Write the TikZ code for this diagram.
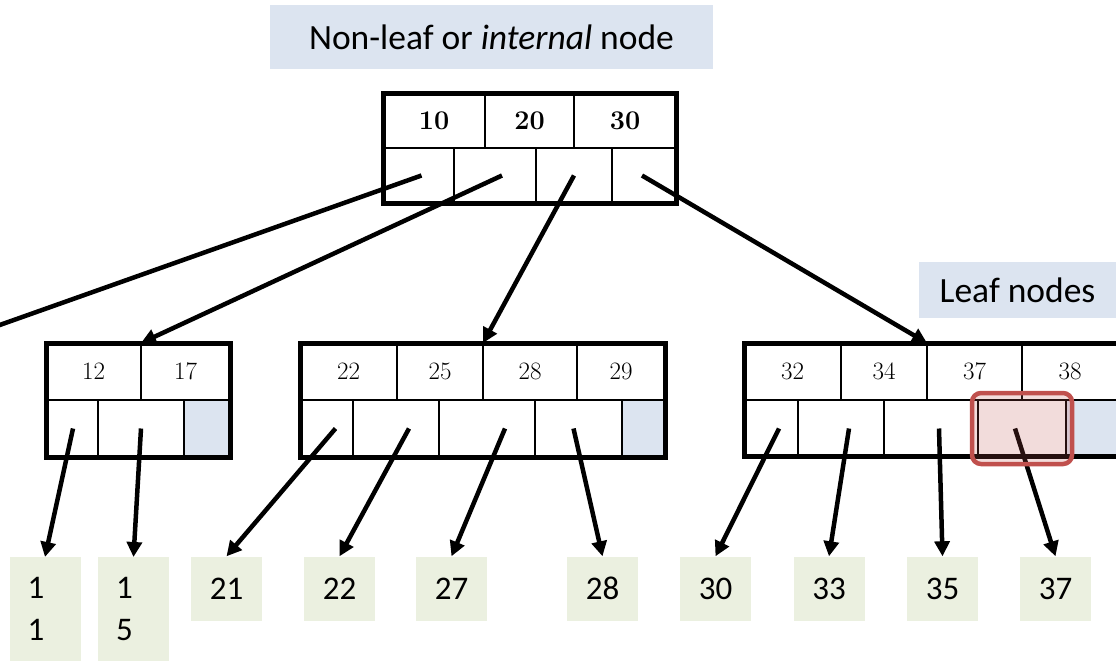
\documentclass[tikz,border=0pt]{standalone}
\usepackage{fontspec}
\newfontfamily\calib{Carlito}
\usetikzlibrary{arrows.meta,fit}
\definecolor{tagblue}{RGB}{220,228,240}
\definecolor{leafgreen}{RGB}{235,240,224}
\definecolor{markred}{RGB}{192,80,77}

\begin{document}
\begin{tikzpicture}[x=1pt,y=-1pt,
        cell/.style={draw,line width=1.5pt,inner sep=0pt,outer sep=0pt,font=\fontsize{25}{28}\selectfont},
        frame/.style={line width=5pt},
        ptr/.style={-{Triangle[length=15pt,width=15pt]},line width=4.5pt},
        rec/.style={fill=leafgreen,inner sep=0pt,minimum width=71pt,minimum height=64pt,font=\calib\fontsize{33}{42}\selectfont},
        tag/.style={fill=tagblue,inner sep=0pt,font=\calib\fontsize{35.5}{40}\selectfont}]
        \useasboundingbox (0,0) rectangle (1116,661);
        \clip (0,0) rectangle (1116,661);

        % Labels
        \node[tag,minimum width=443pt,minimum height=64pt] (inner) at (491.5,37) {Non-leaf or \textit{internal} node};
        \node[tag,minimum width=197pt,minimum height=56pt] (leaves) at (1017.5,290) {Leaf nodes};

        % Root node
        \foreach \n/\a/\b/\t in {r1/383/485/10, r2/485/574/20, r3/574/676/30}
            \node[cell,font=\fontsize{27}{30}\bfseries,minimum width={(\b-\a)*1pt},minimum height=55pt] (\n) at ({(\a+\b)/2},120.5) {\t};
        \foreach \n/\a/\b in {rp1/383/454, rp2/454/536, rp3/536/612, rp4/612/676}
            \node[cell,minimum width={(\b-\a)*1pt},minimum height=55pt] (\n) at ({(\a+\b)/2},175.5) {};
        \draw[frame] (383,93) rectangle (676,203);

        % Leaf nodes
        \foreach \n/\a/\b/\t in {a1/46/141/12, a2/141/230/17,
            b1/300/397/22, b2/397/483/25, b3/483/577/28, b4/577/665/29,
            c1/744/841/32, c2/841/927/34, c3/927/1022/37, c4/1022/1118/38}
            \node[cell,minimum width={(\b-\a)*1pt},minimum height=57pt] (\n) at ({(\a+\b)/2},371.5) {\t};
        \foreach \n/\a/\b/\c in {ap1/46/98/white, ap2/98/184/white, ap3/184/230/tagblue,
            bp1/300/353/white, bp2/353/439/white, bp3/439/535/white, bp4/535/622/white, bp5/622/665/tagblue,
            cp1/744/798/white, cp2/798/884/white, cp3/884/978/white, cp4/978/1066/white, cp5/1066/1118/tagblue}
            \node[cell,fill=\c,minimum width={(\b-\a)*1pt},minimum height=57pt] (\n) at ({(\a+\b)/2},428.5) {};
        \draw[frame] (46,343) rectangle (230,457);
        \draw[frame] (300,343) rectangle (665,457);
        \draw[frame] (744,343) rectangle (1122,456);

        % Records
        \node[rec,minimum height=104pt,text width=35pt,align=left,inner xsep=18pt,anchor=north] (d11) at (45,557) {1\\1};
        \node[rec,minimum height=104pt,text width=35pt,align=left,inner xsep=18pt,anchor=north] (d15) at (133.5,557) {1\\5};
        \foreach \n/\x/\t in {d21/226.5/21, d22/339.5/22, d27/451.5/27, d28/602.5/28,
            d30/715.5/30, d33/829/33, d35/942.5/35, d37/1055.5/37}
            \node[rec] (\n) at (\x,588.5) {\t};

        % Pointers
        \coordinate (offl) at (-20,332);
        \draw[line width=4.5pt] ([xshift=3pt]rp1.center) -- (offl);
        \foreach \p/\k/\s in {rp2/a1/7, rp3/b2/0, rp4/c2/-2}
            \draw[ptr] ([xshift=\s pt]\p.center) -- (\k.north east);
        \foreach \p/\d/\s in {ap1/d11/1, ap2/d15/0, bp1/d21/9, bp2/d22/13, bp3/d27/18, bp4/d28/-5,
            cp1/d30/8, cp2/d33/8, cp3/d35/8, cp4/d37/-7}
            \draw[ptr] ([xshift=\s pt]\p.center) -- (\d.north);

        % Highlight
        \node[draw=markred,fill=markred,fill opacity=0.2,line width=4.5pt,rounded corners=9pt,inner xsep=6pt,inner ysep=7pt,fit=(cp4)] (mark) {};
    \end{tikzpicture}
\end{document}
